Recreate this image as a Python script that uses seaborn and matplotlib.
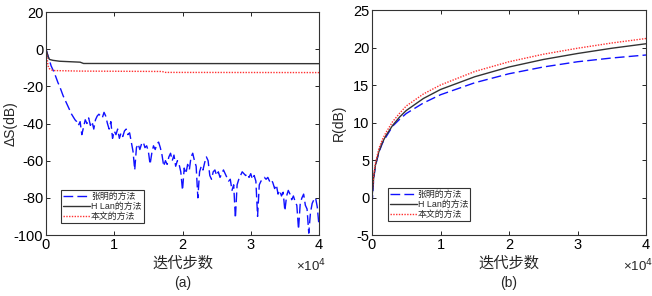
import numpy as np
import pandas as pd
import seaborn as sns
import matplotlib.pyplot as plt

# ---- data (a): Delta S (dB) vs iteration ----
x_zm = np.arange(0, 40001, 250)  # iteration grid for the noisy curve
dS_zm = [0, -3, -6, -9, -11, -13, -15.5, -18, -20, -22.5,
         -25, -27, -29, -31, -33, -35, -36.5, -38, -39, -41,
         -39, -46, -42, -38, -40, -37, -41, -39, -43, -38,
         -36, -35, -36, -37, -34, -36, -40, -43, -39, -48,
         -44, -46, -43, -48, -45, -47, -44, -43, -46, -45,
         -50, -55, -65, -53, -51, -54, -51, -50, -53, -52,
         -55, -62, -56, -52, -54, -51, -50, -53, -57, -63,
         -60, -62, -58, -56, -60, -57, -63, -60, -62, -66,
         -76, -64, -67, -62, -65, -58, -56, -60, -63, -80,
         -66, -63, -65, -61, -58, -60, -68, -70, -66, -65,
         -68, -66, -69, -67, -65, -67, -69, -71, -70, -76,
         -73, -91, -73, -70, -68, -66, -67, -68, -67, -69,
         -67, -70, -68, -71, -90, -73, -71, -70, -69, -70,
         -69, -71, -70, -72, -75, -73, -78, -76, -79, -77,
         -87, -79, -76, -78, -81, -79, -82, -84, -97, -83,
         -80, -78, -84, -86, -99, -88, -83, -81, -80, -85,
         -95]
x_lan_a = [0, 300, 500, 1000, 2000, 5000, 5500, 40000]
dS_lan = [0, -4, -5.5, -6, -6.5, -7, -7.7, -7.8]
x_ours_a = [0, 300, 500, 1000, 5000, 17000, 17500, 40000]
dS_ours = [0, -9, -10.5, -11.5, -11.8, -12.0, -12.5, -12.6]

# ---- data (b): R (dB) vs iteration ----
x_b = [0, 250, 500, 1000, 1500, 2000, 3000, 4000, 5000, 7500,
       10000, 15000, 20000, 25000, 30000, 35000, 40000]
R_zm = [-1, 2.5, 4.2, 6.0, 7.2, 8.0, 9.5, 10.4, 11.2, 12.6,
        13.7, 15.3, 16.5, 17.4, 18.1, 18.6, 19.0]
R_lan = [0, 2.7, 4.3, 6.1, 7.3, 8.2, 9.6, 10.7, 11.6, 13.2,
         14.4, 16.1, 17.4, 18.4, 19.2, 19.9, 20.5]
R_ours = [0.5, 3.0, 4.6, 6.5, 7.7, 8.6, 10.1, 11.2, 12.2, 13.8,
          15.0, 16.8, 18.1, 19.1, 19.9, 20.6, 21.2]

labels = ['张明的方法', 'H Lan的方法', '本文的方法']
x_ticks = [0, 10000, 20000, 30000, 40000]
x_ticklabels = ['0', '1', '2', '3', '4']

sns.set_theme(style='ticks')
plt.rcParams['font.family'] = ['Liberation Sans', 'Noto Sans CJK SC']
plt.rcParams['axes.unicode_minus'] = False

fig = plt.figure(figsize=(6.52, 2.96), dpi=100)
ax1 = fig.add_axes([46/652, 1-235/296, 273/652, 223/296])
ax2 = fig.add_axes([372/652, 1-235/296, 274/652, 225/296])

blue_kw = dict(color='#1010ff', linewidth=1.0, dashes=(7, 3))
black_kw = dict(color='#333333', linewidth=1.0)
red_kw = dict(color='#ff3030', linewidth=1.0, dashes=(1, 1))

# panel (a)
sns.lineplot(x=x_zm, y=dS_zm, ax=ax1, sort=False, label=labels[0], **blue_kw)
sns.lineplot(x=x_lan_a, y=dS_lan, ax=ax1, sort=False, label=labels[1], **black_kw)
sns.lineplot(x=x_ours_a, y=dS_ours, ax=ax1, sort=False, label=labels[2], **red_kw)
ax1.set_ylim(-100, 20)
ax1.set_yticks(range(-100, 21, 20))
ax1.set_ylabel('ΔS(dB)', fontsize=10)
ax1.yaxis.set_label_coords(-0.103, 0.5)

# panel (b)
sns.lineplot(x=x_b, y=R_zm, ax=ax2, sort=False, label=labels[0], **blue_kw)
sns.lineplot(x=x_b, y=R_lan, ax=ax2, sort=False, label=labels[1], **black_kw)
sns.lineplot(x=x_b, y=R_ours, ax=ax2, sort=False, label=labels[2], **red_kw)
ax2.set_ylim(-5, 25)
ax2.set_yticks(range(-5, 26, 5))
ax2.set_ylabel('R(dB)', fontsize=10)
ax2.yaxis.set_label_coords(-0.095, 0.5)

legend_pos = {ax1: (0.055, 0.054), ax2: (0.058, 0.062)}
for ax, tag in [(ax1, '(a)'), (ax2, '(b)')]:
    ax.set_xlim(0, 40000)
    ax.set_xticks(x_ticks)
    ax.set_xticklabels(x_ticklabels)
    ax.set_xlabel('迭代步数', fontsize=11, labelpad=3)
    ax.tick_params(direction='in', length=3, width=0.6, labelsize=10.5,
                   top=True, right=True, pad=2, colors='black')
    for s in ax.spines.values():
        s.set_linewidth(0.8)
        s.set_color('#333333')
    ax.text(1.025, -0.1, r'×10$^4$', transform=ax.transAxes, fontsize=9.5,
            ha='right', va='top')
    ax.text(0.5, -0.215, tag, transform=ax.transAxes, fontsize=10,
            ha='center', va='center')
    leg = ax.legend(loc='lower left', bbox_to_anchor=legend_pos[ax],
                    borderaxespad=0, fontsize=6.4, fancybox=False, framealpha=1,
                    edgecolor='#333333', handlelength=3.0, handletextpad=0.1,
                    labelspacing=0.1, borderpad=0.25)
    leg.get_frame().set_linewidth(0.8)

plt.savefig('out.png', dpi=100)
